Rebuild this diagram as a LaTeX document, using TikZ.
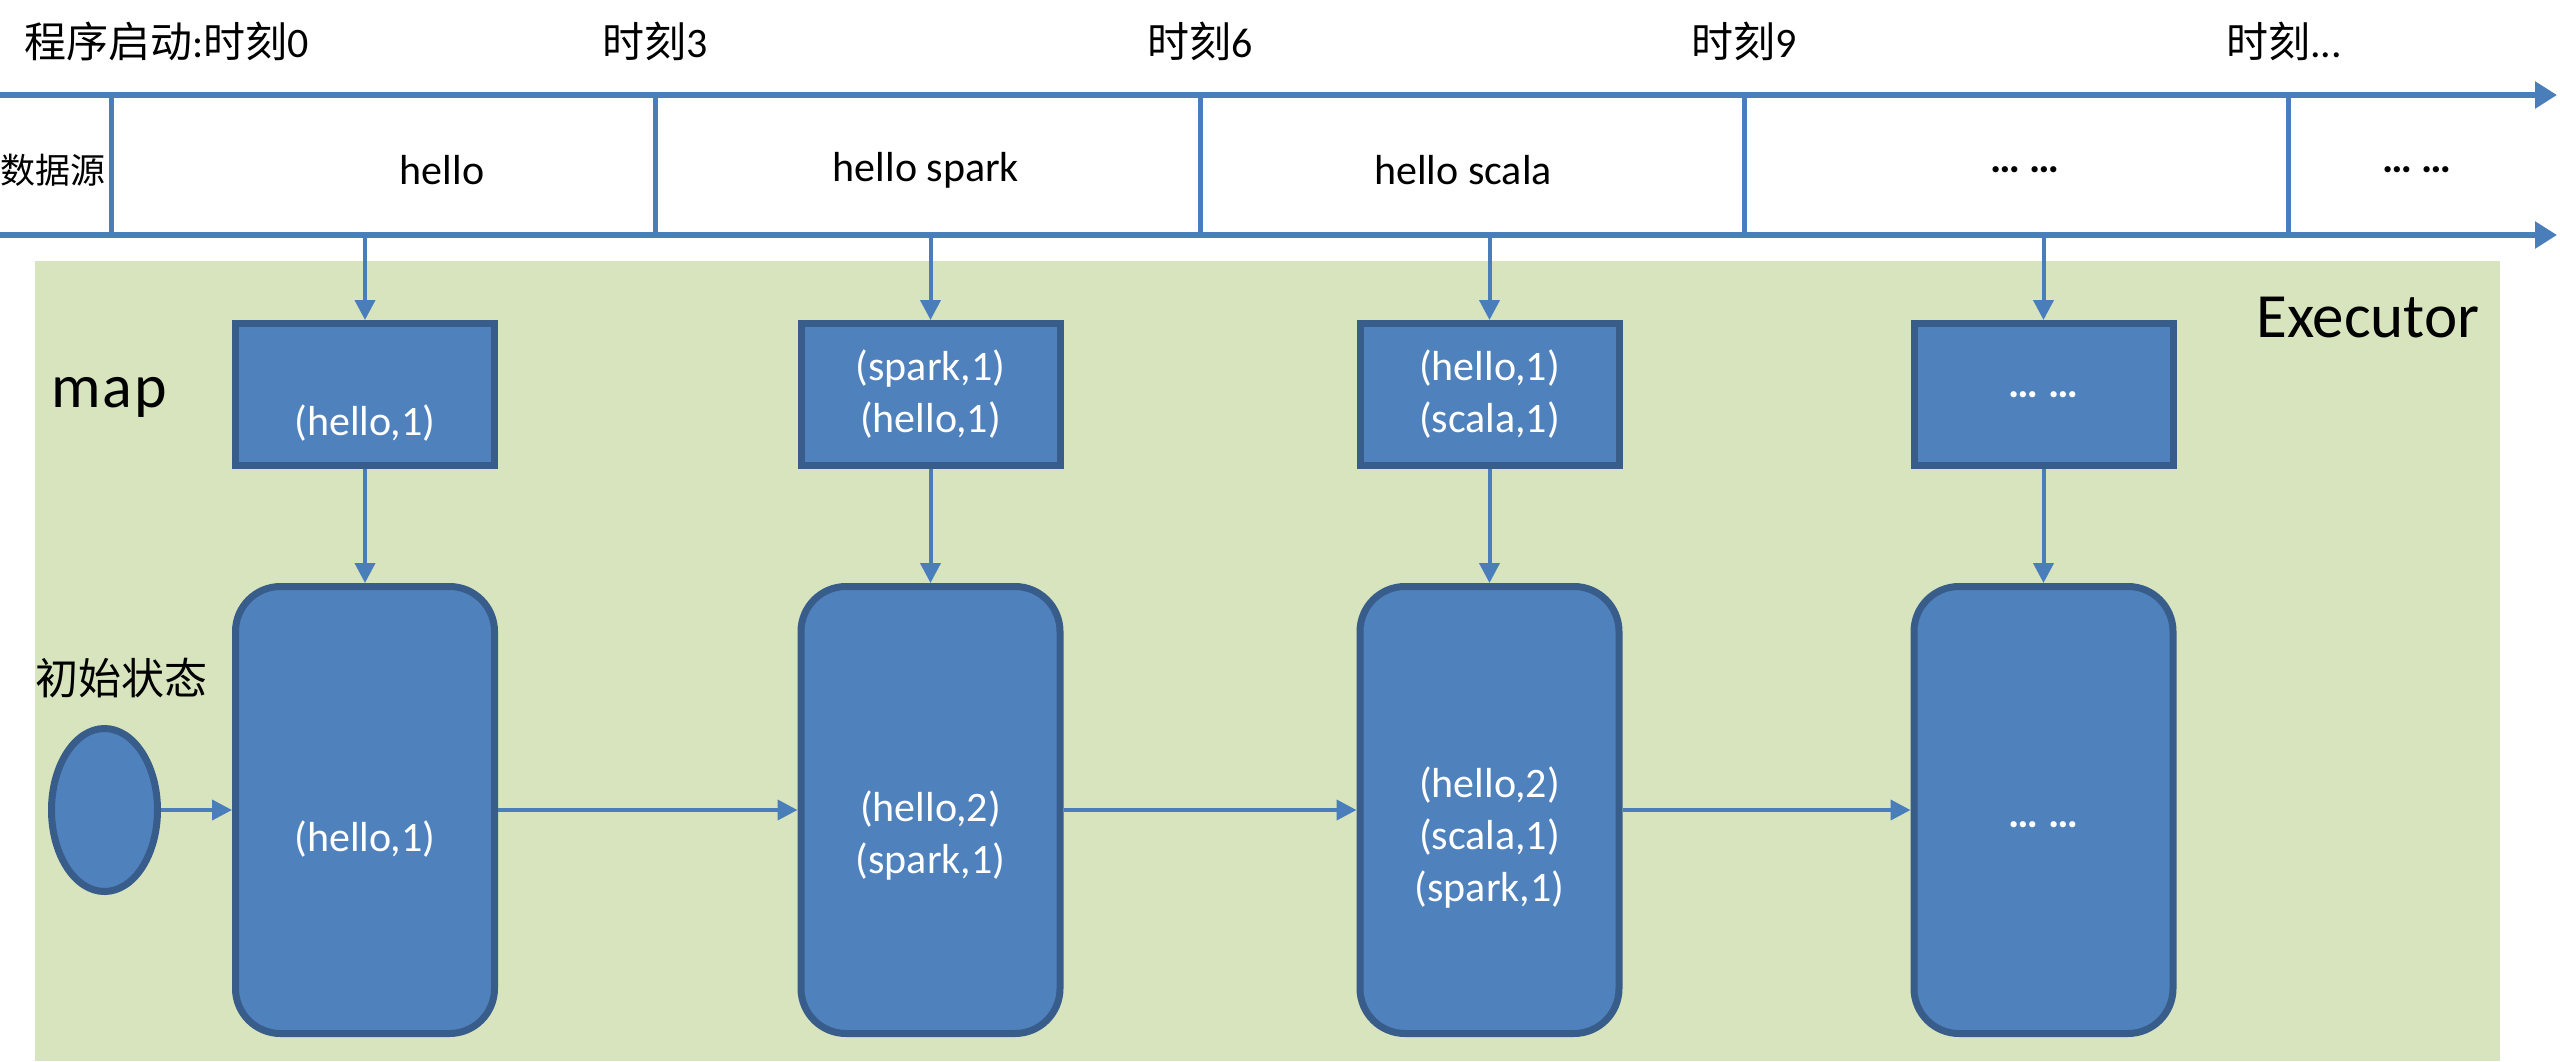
\documentclass[tikz,border=0pt]{standalone}
\usepackage{fontspec}
\setmainfont{Carlito}
\newfontfamily\cjk{Noto Sans CJK SC}
\usetikzlibrary{arrows.meta,shapes.geometric}
\definecolor{lineblue}{HTML}{4A7EBB}
\definecolor{boxfill}{HTML}{4F81BD}
\definecolor{boxedge}{HTML}{385D8A}
\definecolor{execgreen}{HTML}{D7E4BD}
\begin{document}
\begin{tikzpicture}[x=1pt,y=-1pt,
  tline/.style={lineblue,line width=5.5pt,-{Triangle[length=22pt,width=26pt]}},
  sepline/.style={lineblue,line width=5pt},
  arr/.style={lineblue,line width=4pt,-{Triangle[length=20pt,width=20pt]}},
  mapbox/.style={rectangle,fill=boxfill,draw=boxedge,line width=7pt,minimum width=259pt,minimum height=142pt,inner sep=0pt,text=white,font=\fontsize{42}{52}\selectfont,align=center},
  statebox/.style={rectangle,rounded corners=45pt,fill=boxfill,draw=boxedge,line width=7pt,minimum width=259pt,minimum height=447pt,inner sep=0pt},
  statetext/.style={text=white,font=\fontsize{42}{52}\selectfont,align=center,inner sep=0pt},
  titletext/.style={font=\fontsize{42}{50}\selectfont,inner sep=0pt},
  datatext/.style={font=\fontsize{42}{50}\selectfont,inner sep=0pt}]
\useasboundingbox (0,0) rectangle (2560,1061);
\fill[white] (0,0) rectangle (2560,1061);
% executor background
\node[fill=execgreen,minimum width=2465pt,minimum height=800pt,anchor=north west,inner sep=0pt] (exec) at (35,261) {};
% timeline
\coordinate (tlA) at (0,95);
\coordinate (tlB) at (2557,95);
\coordinate (blA) at (0,235);
\coordinate (blB) at (2557,235);
\draw[tline] (tlA) -- (tlB);
\draw[tline] (blA) -- (blB);
\foreach \i/\x in {1/111,2/655,3/1200,4/1744,5/2288}{
  \coordinate (s\i t) at (\x,95);
  \coordinate (s\i b) at (\x,235);
  \draw[sepline] (s\i t) -- (s\i b);
}
% titles
\node[titletext,anchor=west] (T0) at (24,41) {{\cjk 程序启动}:{\cjk 时刻}0};
\node[titletext] (T3) at (655,41) {{\cjk 时刻}3};
\node[titletext] (T6) at (1200,41) {{\cjk 时刻}6};
\node[titletext] (T9) at (1744,41) {{\cjk 时刻}9};
\node[titletext] (Tn) at (2284,41) {{\cjk 时刻}...};
% data row
\node[font=\cjk\fontsize{35}{40}\selectfont,inner sep=0pt] (src) at (53,170) {数据源};
\node[datatext] (d1) at (442,170) {hello};
\node[datatext] (d2) at (926,170) {hello spark};
\node[datatext] (d3) at (1463,170) {hello scala};
\node[datatext] (d4) at (2025,170) {\textbf{… …}};
\node[datatext] (d5) at (2417,170) {\textbf{… …}};
% labels
\node[font=\fontsize{63}{70}\selectfont,inner sep=0pt] (execlabel) at (2368,318) {Executor};
\node[font=\fontsize{62}{66}\selectfont,inner sep=0pt] (maplabel) at (109,397) {m\kern2pt a\kern2pt p};
\node[font=\cjk\fontsize{43}{50}\selectfont,inner sep=0pt] (initlabel) at (121,678) {初始状态};
% map boxes
\node[mapbox] (m1) at (365,394.5) {\strut\\(hello,1)};
\node[mapbox] (m2) at (930.5,394.5) {(spark,1)\\(hello,1)};
\node[mapbox] (m3) at (1489.5,394.5) {(hello,1)\\(scala,1)};
\node[mapbox] (m4) at (2043.5,394.5) {\textbf{… …}};
% state boxes
\node[ellipse,fill=boxfill,draw=boxedge,line width=7pt,minimum width=106pt,minimum height=163pt,inner sep=0pt] (init) at (104.5,810) {};
\node[statebox] (r1) at (365,810) {};
\node[statebox] (r2) at (930.5,810) {};
\node[statebox] (r3) at (1489.5,810) {};
\node[statebox] (r4) at (2043.5,810) {};
\node[statetext] (t1) at (365,839) {(hello,1)};
\node[statetext] (t2) at (930.5,836) {(hello,2)\\(spark,1)};
\node[statetext] (t3) at (1489.5,838) {(hello,2)\\(scala,1)\\(spark,1)};
\node[statetext] (t4) at (2043.5,825) {\textbf{… …}};
% arrows
\foreach \k in {1,2,3,4}{
  \draw[arr] (m\k.north |- blA) -- (m\k.north);
  \draw[arr] (m\k.south) -- (r\k.north);
}
\draw[arr] (init.east) -- (r1.west);
\draw[arr] (r1.east) -- (r2.west);
\draw[arr] (r2.east) -- (r3.west);
\draw[arr] (r3.east) -- (r4.west);
\end{tikzpicture}
\end{document}
